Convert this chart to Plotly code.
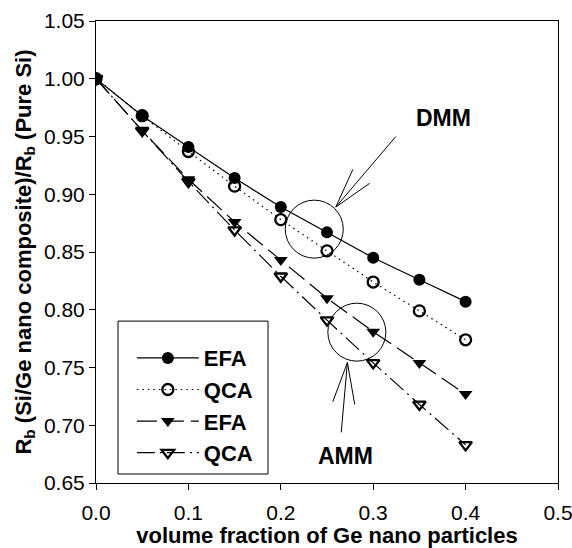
import plotly.graph_objects as go

# ---- data ----
vol_frac = [0.0, 0.05, 0.10, 0.15, 0.20, 0.25, 0.30, 0.35, 0.40]
dmm_efa = [1.000, 0.968, 0.941, 0.914, 0.889, 0.867, 0.845, 0.826, 0.807]
dmm_qca = [1.000, 0.968, 0.937, 0.907, 0.878, 0.851, 0.824, 0.799, 0.774]
amm_efa = [1.000, 0.955, 0.913, 0.876, 0.843, 0.810, 0.781, 0.754, 0.727]
amm_qca = [1.000, 0.955, 0.911, 0.869, 0.829, 0.791, 0.754, 0.718, 0.683]
legend_names = ["EFA", "QCA", "EFA", "QCA"]
x_ticks = [0.0, 0.1, 0.2, 0.3, 0.4, 0.5]
y_ticks = [0.65, 0.70, 0.75, 0.80, 0.85, 0.90, 0.95, 1.00, 1.05]

FONT = "Liberation Sans, Arial, Helvetica, sans-serif"

fig = go.Figure()
styles = [
    (dmm_efa, "solid", dict(symbol="circle", size=12, color="black")),
    (dmm_qca, "1.5px,4px", dict(symbol="circle-open", size=11, color="black", line=dict(width=2.3))),
    (amm_efa, "20px,7px", dict(symbol="triangle-down", size=12, color="black")),
    (amm_qca, "18px,5px,2px,5px", dict(symbol="triangle-down-open", size=11, color="black", line=dict(width=2.3))),
]
for i, (ys, dash, mk) in enumerate(styles):
    fig.add_trace(go.Scatter(
        x=vol_frac, y=ys, mode="lines+markers", name=legend_names[i],
        line=dict(color="black", width=1.2, dash=dash), marker=mk,
        legendgroup=f"g{i}",
    ))

# circles highlighting the model groups
fig.add_shape(type="circle", xref="x", yref="y",
              x0=0.2362 - 0.0314, x1=0.2362 + 0.0314, y0=0.8698 - 0.0251, y1=0.8698 + 0.0251,
              line=dict(color="black", width=1))
fig.add_shape(type="circle", xref="x", yref="y",
              x0=0.2823 - 0.0314, x1=0.2823 + 0.0314, y0=0.7806 - 0.0251, y1=0.7806 + 0.0251,
              line=dict(color="black", width=1))

# arrows (open V heads)
def arrow(start, tip, h1, h2):
    for p in (start, h1, h2):
        fig.add_shape(type="line", xref="x", yref="y", x0=p[0], y0=p[1], x1=tip[0], y1=tip[1],
                      line=dict(color="black", width=1))

arrow((0.3245, 0.950), (0.2595, 0.8889), (0.278, 0.9215), (0.2961, 0.9094))
arrow((0.2654, 0.6938), (0.2721, 0.7543), (0.2563, 0.7204), (0.280, 0.718))

fig.add_annotation(x=0.3763, y=0.966, text="DMM", showarrow=False,
                   font=dict(family=FONT, size=23, color="black", weight="bold"))
fig.add_annotation(x=0.270, y=0.673, text="AMM", showarrow=False,
                   font=dict(family=FONT, size=23, color="black", weight="bold"))

# legend frame
fig.add_shape(type="rect", xref="paper", yref="paper",
              x0=(118 - 96) / 462, x1=(268 - 96) / 462,
              y0=(483 - 474) / 462.3, y1=(483 - 321) / 462.3,
              line=dict(color="black", width=1), fillcolor="white", layer="below")

fig.update_layout(
    width=572, height=548,
    margin=dict(l=96, r=14, t=21, b=65),
    paper_bgcolor="white", plot_bgcolor="white",
    font=dict(family=FONT, color="black"),
    showlegend=True,
    legend=dict(x=(118 - 96) / 462 + 0.03, y=(483 - 337) / 462.3, xanchor="left", yanchor="top",
                bgcolor="rgba(0,0,0,0)", borderwidth=0,
                font=dict(family=FONT, size=22, color="black", weight="bold"),
                tracegroupgap=0, itemwidth=62),
    xaxis=dict(range=[0, 0.5], tickvals=x_ticks, ticktext=[f"{v:.1f}" for v in x_ticks],
               ticks="outside", ticklen=6, tickcolor="black", tickwidth=1,
               ticklabelstandoff=5, ticklabeloverflow="allow", automargin=False,
               showline=True, linecolor="black", linewidth=1, mirror=True,
               showgrid=False, zeroline=False,
               tickfont=dict(family=FONT, size=21, color="black"),
               title=dict(text="volume fraction of Ge nano particles",
                          font=dict(family=FONT, size=22, color="black", weight="bold"), standoff=17)),
    yaxis=dict(range=[0.65, 1.05], tickvals=y_ticks, ticktext=[f"{v:.2f}" for v in y_ticks],
               ticks="outside", ticklen=6, tickcolor="black", tickwidth=1,
               ticklabeloverflow="allow", automargin=False,
               showline=True, linecolor="black", linewidth=1, mirror=True,
               showgrid=False, zeroline=False,
               tickfont=dict(family=FONT, size=21, color="black"),
               title=dict(text="R<sub>b</sub> (Si/Ge nano composite)/R<sub>b</sub> (Pure Si)",
                          font=dict(family=FONT, size=22, color="black", weight="bold"), standoff=6)),
)

fig.write_html("out.html")
